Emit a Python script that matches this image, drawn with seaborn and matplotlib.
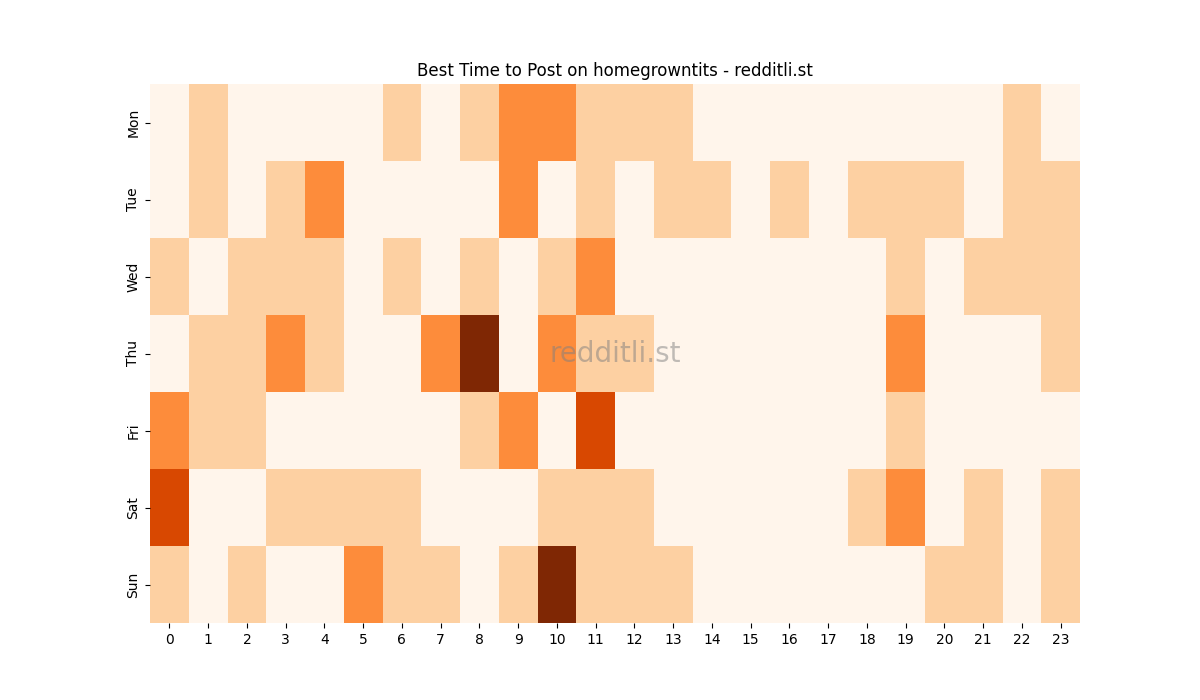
import matplotlib
matplotlib.use("Agg")
import matplotlib.pyplot as plt
import seaborn as sns
import numpy as np

days = ["Mon", "Tue", "Wed", "Thu", "Fri", "Sat", "Sun"]
hours = list(range(24))
mon = [0,1,0,0,0,0,1,0,1,2,2,1,1,1,0,0,0,0,0,0,0,0,1,0]
tue = [0,1,0,1,2,0,0,0,0,2,0,1,0,1,1,0,1,0,1,1,1,0,1,1]
wed = [1,0,1,1,1,0,1,0,1,0,1,2,0,0,0,0,0,0,0,1,0,1,1,1]
thu = [0,1,1,2,1,0,0,2,4,0,2,1,1,0,0,0,0,0,0,2,0,0,0,1]
fri = [2,1,1,0,0,0,0,0,1,2,0,3,0,0,0,0,0,0,0,1,0,0,0,0]
sat = [3,0,0,1,1,1,1,0,0,0,1,1,1,0,0,0,0,0,1,2,0,1,0,1]
sun = [1,0,1,0,0,2,1,1,0,1,4,1,1,1,0,0,0,0,0,0,1,1,0,1]

data = np.array([mon, tue, wed, thu, fri, sat, sun])
fig, ax = plt.subplots(figsize=(12, 7), dpi=100)
sns.heatmap(data, cmap="Oranges", vmin=0, vmax=4, cbar=False,
            xticklabels=hours, yticklabels=days, ax=ax)
ax.set_title("Best Time to Post on homegrowntits - redditli.st")
ax.text(0.5, 0.5, "redditli.st", transform=ax.transAxes, ha="center", va="center",
        fontsize=20, color="gray", alpha=0.5)
plt.yticks(rotation=90, va="center")
plt.xticks(rotation=0)
fig.savefig("out.png")
